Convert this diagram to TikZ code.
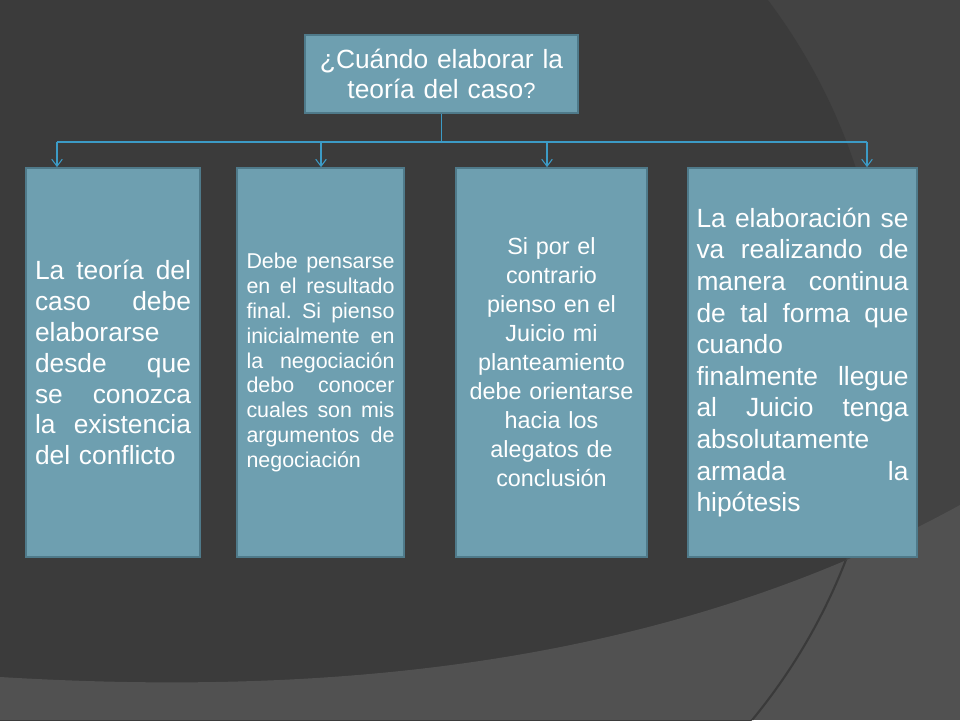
\documentclass[tikz,border=0pt]{standalone}
\usepackage{fontspec}
\setmainfont{Liberation Sans}
\usetikzlibrary{arrows.meta}

\definecolor{fondo}{HTML}{3B3B3B}
\definecolor{fondoclaro}{HTML}{434343}
\definecolor{fondobajo}{HTML}{515151}
\definecolor{arco}{HTML}{3A3A3A}
\definecolor{caja}{HTML}{6E9FB0}
\definecolor{borde}{HTML}{4F7A8A}
\definecolor{linea}{HTML}{3C9BC6}

% one justified line of a box
\newcommand{\jl}[1]{\makebox[\hsize][s]{\frenchspacing\spaceskip=0pt\xspaceskip=0pt #1}}

\begin{document}
\begin{tikzpicture}[x=0.02cm,y=-0.02cm,
    box/.style={draw=borde,line width=1pt,fill=caja,text=white,inner sep=0pt,
      minimum height=7.78cm},
    link/.style={linea,line width=0.6pt},
    arr/.style={link,-{Straight Barb[length=4pt,width=6pt]}}]

    \useasboundingbox (0,0) rectangle (960,720);

    % background
    \fill[fondoclaro] (0,0) rectangle (960,720);
    \begin{scope}
      \clip (0,0) rectangle (960,720);
      \fill[fondo] (303,350) circle [radius=11.64cm];
    \end{scope}
    \begin{scope}
      \clip (0,677) .. controls (300,695) and (650,675) .. (960,505)
        -- (960,720) -- (0,720) -- cycle;
      \fill[fondobajo] (0,0) rectangle (960,720);
      \draw[arco,line width=1.2pt] (303,350) circle [radius=11.64cm];
    \end{scope}

    \node[box,minimum width=5.46cm,minimum height=1.56cm,text width=5.2cm,
      align=center,font=\fontsize{15}{17.5}\selectfont] (q) at (441.5,74)
      {¿Cuándo elaborar la\\teoría del caso{\fontsize{12.5}{14}\selectfont?}};

    \node[box,minimum width=3.48cm,text width=3.12cm,align=left,
      font=\fontsize{15}{17.6}\selectfont] (b1) at (113,362.5)
      {\jl{La teoría del}\\\jl{caso debe}\\elaborarse\\\jl{desde que}\\
       \jl{se conozca}\\\jl{la existencia}\\del conflicto};

    \node[box,minimum width=3.34cm,text width=2.96cm,align=left,
      font=\fontsize{12.2}{14.2}\selectfont] (b2) at (320.5,362.5)
      {\jl{Debe pensarse}\\\jl{en el resultado}\\\jl{final. Si pienso}\\
       \jl{inicialmente en}\\\jl{la negociación}\\\jl{debo conocer}\\
       \jl{cuales son mis}\\\jl{argumentos de}\\negociación};

    \node[box,minimum width=3.82cm,text width=3.5cm,align=center,
      font=\fontsize{13.3}{16.5}\selectfont] (b3) at (551.5,362.5)
      {Si por el\\contrario\\pienso en el\\Juicio mi\\planteamiento\\
       debe orientarse\\hacia los\\alegatos de\\conclusión};

    \node[box,minimum width=4.58cm,text width=4.24cm,align=left,
      font=\fontsize{15}{18}\selectfont] (b4) at (802.5,362.5)
      {\jl{La elaboración se}\\\jl{va realizando de}\\\jl{manera continua}\\
       \jl{de tal forma que}\\cuando\\\jl{finalmente llegue}\\
       \jl{al Juicio tenga}\\absolutamente\\\jl{armada la}\\hipótesis};

    \coordinate (t1) at (57,142);
    \coordinate (t2) at (321,142);
    \coordinate (t3) at (547,142);
    \coordinate (t4) at (867,142);

    \draw[link] (q.south) -- (q.south |- t1);
    \draw[link] (t1) -- (t4);
    \foreach \i in {1,2,3,4}
    \draw[arr] (t\i) -- (t\i |- b\i.north);

\end{tikzpicture}
\end{document}
